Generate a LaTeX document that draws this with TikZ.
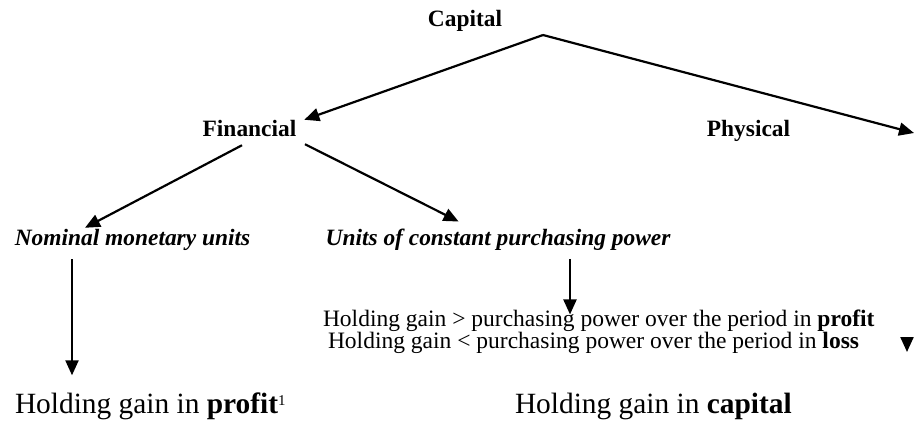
\documentclass[tikz,border=0pt]{standalone}
\usepackage{fontspec}
\setmainfont{Liberation Serif}
\usetikzlibrary{arrows.meta,calc}

\begin{document}
\begin{tikzpicture}[x=1bp,y=-1bp,>={Triangle[length=15bp,width=13bp]},line width=2.2bp,
    every node/.style={inner sep=0pt,outer sep=0pt},
    head/.style={anchor=base,font=\fontsize{23.5}{24}\selectfont\bfseries},
    unit/.style={anchor=base,font=\fontsize{23.5}{24}\selectfont\bfseries\itshape},
    rule/.style={anchor=base west,font=\fontsize{23.6}{24}\selectfont},
    result/.style={anchor=base west,font=\fontsize{29.5}{30}\selectfont}]
  \useasboundingbox (0,0) rectangle (915,430);
  \node[head]   (cap)  at (465,26)    {Capital};
  \coordinate   (apex) at (543,35);
  \node[head]   (fin)  at (249.5,136) {Financial};
  \node[head]   (phys) at (748.5,136) {Physical};
  \coordinate   (physend) at (914,133);
  \node[unit]   (nom)  at (132.5,245) {Nominal monetary units};
  \node[unit]   (ucpp) at (498,245)   {Units of constant purchasing power};
  \node[rule]   (gt)   at (323,326)   {Holding gain > purchasing power over the period in \textbf{profit}};
  \node[rule]   (lt)   at (328,348)   {Holding gain < purchasing power over the period in \textbf{loss}};
  \node[result] (hgp)  at (15,413)    {Holding gain in \textbf{profit}\raisebox{8bp}{\fontsize{15}{15}\selectfont 1}};
  \node[result] (hgc)  at (515,413)   {Holding gain in \textbf{capital}};
  \coordinate   (stubtop) at (907,341);
  \coordinate   (stubend) at (907,352);
  \path[->]
    (apex)
      edge ($(fin.north east)+(8,0)$)
      edge (physend)
    ($(fin.south)+(-7.5,9)$)
      edge ($(nom.north)+(-47.5,-1)$)
    ($(fin.south)+(55.5,8)$)
      edge ($(ucpp.north west)+(133,-7)$)
    ($(nom.south)+(-60.5,9)$)
      edge ($(hgp.north west)+(57,-17)$)
    ($(ucpp.south)+(72,9)$)
      edge ($(gt.north west)+(247,5)$)
    (stubtop)
      edge (stubend)
  ;
\end{tikzpicture}
\end{document}
